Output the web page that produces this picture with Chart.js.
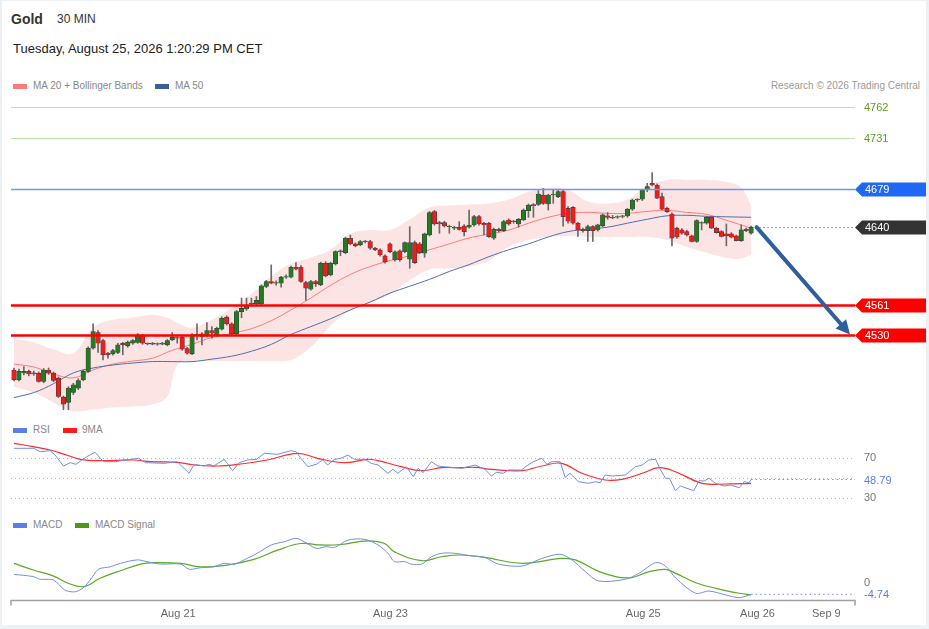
<!DOCTYPE html>
<html>
<head>
<meta charset="utf-8">
<title>Gold 30 MIN</title>
<script src="https://cdn.jsdelivr.net/npm/chart.js@4.4.1/dist/chart.umd.min.js"></script>
<style>
  body{margin:0;background:#edf1f4;width:929px;height:629px;overflow:hidden;position:relative;font-family:Arial,"Liberation Sans",sans-serif}
  .frame{position:absolute;left:2px;top:1px;width:924px;height:624px;background:#fff}
  .t{position:absolute;white-space:nowrap}
  .sw{position:absolute;width:14px;height:5px}
  .lg{font-size:10px;line-height:12px;color:#888}
  canvas{position:absolute;left:0}
</style>
</head>
<body>
<div class="frame"></div>

<div class="t" style="left:11px;top:11px;font-size:14px;line-height:16px;font-weight:bold;color:#333">Gold</div>
<div class="t" style="left:57px;top:12px;font-size:12px;line-height:14px;color:#333">30 MIN</div>
<div class="t" style="left:13px;top:41px;font-size:13px;line-height:16px;color:#222">Tuesday, August 25, 2026 1:20:29 PM CET</div>

<div class="sw" style="left:13px;top:84px;background:#ff7b7b"></div>
<div class="t lg" style="left:33px;top:80px">MA 20 + Bollinger Bands</div>
<div class="sw" style="left:155px;top:84px;background:#3a5f9a"></div>
<div class="t lg" style="left:175px;top:80px">MA 50</div>
<div class="t lg" style="right:9px;top:80px;color:#999">Research © 2026 Trading Central</div>

<div class="sw" style="left:13px;top:428px;background:#5b7fe6"></div>
<div class="t lg" style="left:33px;top:424px">RSI</div>
<div class="sw" style="left:63px;top:428px;background:#ff1a1a"></div>
<div class="t lg" style="left:82px;top:424px">9MA</div>

<div class="sw" style="left:13px;top:523px;background:#5b7fe6"></div>
<div class="t lg" style="left:33px;top:519px">MACD</div>
<div class="sw" style="left:75px;top:523px;background:#4a9a14"></div>
<div class="t lg" style="left:95px;top:519px">MACD Signal</div>

<canvas id="price" width="929" height="320" style="top:100px"></canvas>
<canvas id="rsi" width="929" height="75" style="top:440px"></canvas>
<canvas id="macd" width="929" height="109" style="top:520px"></canvas>

<script>
// candles, index 0 = first 30 min bar
const opens = [4495,4485,4492,4493.5,4491,4491.8,4483.3,4495,4491.8,4486.7,
4467.4,4462,4472.2,4476.6,4485,4493.5,4517.1,4533,4524.9,4512,
4511.4,4512.7,4522.2,4519.5,4522.2,4522.9,4529.6,4521.5,4522,4521.3,
4522.2,4520.5,4525.6,4527.3,4528.3,4516.8,4511.4,4530.6,4531.7,4529.6,
4535,4530.6,4536.4,4548.6,4541.8,4531.7,4554.3,4557,4562,4562.2,
4562.2,4579.7,4584.8,4583.1,4583.1,4589.2,4589.2,4599.3,4599.2,4583.8,
4577,4584.8,4581.4,4603.4,4591.5,4602.7,4615.2,4614.2,4628.7,4623,
4622,4625.3,4625.3,4618.6,4616.9,4610.8,4623,4606.7,4616,4615,
4607.4,4624.3,4623,4613.5,4632,4655.7,4644.6,4644.6,4640.5,4639.9,
4639.9,4641.2,4639.9,4642.2,4650.7,4643.9,4643.9,4628.7,4637.8,4636.5,
4647.3,4645.6,4643.2,4647.3,4656.7,4663,4663.2,4672.6,4663.5,4672.6,
4671,4676.1,4659,4660,4644,4637.9,4636.5,4640.6,4637.2,4641.3,
4651.4,4650,4650.2,4650.8,4651.4,4658.2,4667.6,4668.3,4678.5,4684.5,
4682.8,4671,4659.2,4653.4,4639,4637.2,4635.5,4631.1,4625.4,4644,
4644,4650,4638.9,4635.5,4633.2,4633.2,4631.1,4626.4,4637.9,4634];
const highs = [4497,4496,4498.5,4495,4494,4493,4496.5,4497,4493,4488,
4468.5,4478,4481.5,4486,4495,4518.5,4541.8,4535,4526,4513,
4516,4522,4523,4524.5,4526,4532,4531,4522.5,4523,4522.5,
4523,4526,4533,4529,4529.5,4518,4532,4541.8,4533,4543.2,
4539,4538.5,4549,4550,4543,4555.5,4568,4568,4568,4569.6,
4581.5,4586,4601.7,4585.5,4590,4591.6,4600.5,4604,4601,4585,
4586,4586,4604.5,4605,4604.5,4616,4617,4630,4632,4624,
4626.5,4626.5,4626.5,4619.5,4618,4612,4624,4616,4617,4625,
4640.5,4626,4624.5,4634,4656,4657,4646,4646,4642,4641,
4645.6,4642.5,4657.4,4652,4652,4645,4645,4639,4639,4647,
4648.5,4647,4649,4658.5,4663.5,4664,4677,4679.4,4673.5,4677.7,
4677.7,4677.5,4661,4661,4645,4639,4642,4641.5,4643,4653.5,
4654.8,4652,4651.5,4652,4659,4668.5,4669,4678.5,4684.5,4695.4,
4684,4674.5,4660.5,4654.5,4640,4638.5,4637,4632,4647.5,4645.5,
4651,4651,4640,4636.5,4643.3,4634.5,4632,4642.3,4639,4641];
const lows = [4484,4484,4490,4489,4489.5,4482.5,4482,4490.5,4483,4467,
4454.6,4454.6,4470,4475,4484,4492.5,4516,4512.7,4505.3,4507,
4510,4511.5,4510.4,4518,4521,4522,4521,4520.5,4520.5,4520,
4520.5,4519.5,4524.8,4522.2,4515,4511,4510.5,4525.6,4520.5,4528.5,
4527.3,4529.5,4535.5,4540.5,4530.5,4530.5,4548,4555.5,4560,4561,
4561.5,4578.5,4582.5,4581,4579,4588,4588.5,4596.5,4584,4565.5,
4576,4579.7,4580.5,4589.5,4590.5,4601.5,4611,4613,4622,4620,
4621,4624,4617.5,4616,4610.5,4603.5,4614,4605.5,4605.5,4614,
4598.3,4603,4613,4609.4,4631,4642,4633.8,4640,4633.8,4637.5,
4637,4631,4639,4641,4642,4632,4629.5,4627.5,4635,4635.5,
4642,4644,4640,4646.5,4650,4650,4662,4663,4657.4,4664.2,
4670,4641,4644,4643,4630.5,4635,4625.4,4625.4,4636,4640.5,
4648,4648.5,4649,4649.5,4650,4657,4666,4667,4676,4681.8,
4669,4657.5,4655,4621,4628.5,4633,4631,4625,4624.5,4637.2,
4643,4638.5,4634,4630,4621,4629,4626,4625.5,4635.5,4633];
const closes = [4485,4493.5,4493.5,4491,4492,4483.3,4495,4491.8,4484.3,4468.1,
4460.3,4476.6,4480,4484.3,4493.5,4517.1,4534,4522.2,4510.4,4510.4,
4514.8,4520.5,4520.5,4523.2,4524.9,4530.6,4522.2,4522.1,4521.3,4521.9,
4521.2,4524.9,4528.3,4527.9,4516.1,4512,4530.6,4531.3,4529,4535,
4532.3,4537.4,4547.5,4541.8,4531.7,4554.3,4557.5,4561,4563,4565.6,
4580.4,4584.8,4583.1,4583.8,4589.2,4589.9,4599.3,4597.3,4584.8,4578,
4584.8,4582.4,4603.4,4590.5,4603.4,4615.2,4615.9,4628.7,4623,4621,
4625.3,4625.9,4618.6,4616.9,4611.8,4605,4615.2,4615,4607,4624.3,
4624.3,4604,4614.2,4633.1,4654.7,4643.2,4643.2,4641.2,4640.9,4638.9,
4637.8,4635.5,4642.2,4650.7,4643.2,4642.2,4630.4,4637.8,4636.5,4645.6,
4643.2,4646.2,4648,4657.4,4662.5,4661.8,4673.7,4664.2,4672.6,4673.2,
4676,4650.7,4646,4644,4637.2,4636.5,4640.6,4636.5,4642.3,4652.4,
4650,4649.3,4650.8,4651.4,4658.2,4667.6,4668.3,4677.8,4681.2,4682.8,
4669.3,4658.2,4655.8,4628.8,4630,4633.8,4632.1,4625.4,4646.7,4644.6,
4650,4638.9,4634.5,4630.5,4631.1,4629.8,4626.4,4637.2,4636.5,4640];

// moving averages (read at every 4th bar)
const maX = [0,4,8,12,16,20,24,28,32,36,40,44,48,52,56,60,64,68,72,76,80,84,88,92,96,100,104,108,112,116,120,124,128,132,136,140,144,149];
const ma20 = [4501,4498,4491,4487,4495,4501,4504,4507,4515,4521,4528,4532,4537,4545,4556,4568,4581,4592,4600,4606,4611,4617,4623,4629,4633,4637,4644,4650,4654,4655,4654,4654,4656,4657,4655,4653,4647,4639];
const ma50 = [4467,4472,4481,4492,4497,4500,4502,4503.5,4503.5,4503.5,4506,4509,4514,4521,4531,4539,4547,4556,4564,4573,4580,4587,4595,4602,4610,4617,4623,4630,4635.5,4638,4640,4644,4648,4651.5,4652,4651,4650.5,4650];

// bollinger bands
const bandX = [0,4,8,12,16,20,24,28,31,33,36,40,44,48,52,56,60,64,68,72,76,80,84,88,92,96,100,104,108,112,116,120,124,128,132,136,140,144,147,149];
const bandUpper = [4527,4523,4516,4512,4538,4546,4548,4551,4548,4543,4538,4546,4558,4572,4590,4603,4609,4617,4633,4637,4637,4648,4660,4662,4663,4664,4668,4676,4680,4678,4666,4664,4668,4682,4688,4688,4688,4686,4680,4662];
const bandLower = [4478,4472,4462,4453,4455,4457,4458,4460,4468,4500,4504,4504,4504,4504,4504,4505,4518,4540,4555,4563,4572,4586,4597,4598,4600,4606,4620,4627,4630,4631,4630,4630,4630,4630,4627,4620,4614,4609,4608,4612];

// price levels
const resistLevels = [4762, 4731];
const pivotLevel = 4679;
const lastPrice = 4640;
const supportLevels = [4561, 4530];
const arrowFrom = [150.1, 4640];
const arrowTo = [169, 4531];

// RSI
const rsiX = [0,4,5.3,7.3,8.3,10,11.4,12.5,14.7,16.4,18.1,20.5,22,25.2,26.6,30.3,33,35.4,36.4,38.4,39.4,40.4,42.5,44.2,45.5,47.2,49,50.6,53.3,56,57,58,59.4,61.1,62.4,63.4,64.8,66.1,67.5,68.8,70.9,72.2,73.6,75.6,76.6,77.6,79.3,80.7,81.7,82.7,84.4,85.7,87,90.5,93.2,95.2,96.5,97.5,98.9,99.9,102.6,103.6,105,106.7,107.7,108.7,110.4,111.4,112.4,114.1,116.2,117.5,118.5,119.5,120.9,123.6,125.6,127,128.3,129.7,130.7,131.7,132.5,133.7,134.7,137.4,138.5,139.5,140.5,141.8,143.5,144.8,146.6,147.6,148.6,149];
const rsi = [80,80,76.6,77.6,73.3,62.3,65.6,64,71.6,76,66.6,66.6,68,70,65.6,65,66.6,55,64,62.3,64,62.3,69,57.6,65.6,68.3,69,75,74,77.6,76.6,70,61.6,64,68.3,63.3,69,70,73.3,69,69,65,63.3,55,59,55,61.6,51.6,60,55.6,66.6,62.3,61.6,60,63.3,59,52.3,56,55,58.3,58.3,62.3,66.6,70,64,66.6,66.6,51,55,46.6,45,46.6,45.6,53.3,52.3,53.3,61.6,63.3,68.3,69,58.3,50,50,37.6,42.3,37.6,47.6,47.3,50,45,42.3,43.3,40.6,46.6,45.6,48.79];
const rsiMaX = [0,3.9,7.3,10.6,13.4,17.4,24.2,27.6,33,36.4,41.1,45.8,51.2,57.3,61.4,66.8,71.5,73.6,78.3,82.4,86.4,90.5,93.2,96.5,102.6,106.7,110.7,114.8,119.5,122.9,127,130.4,133.7,139.1,143.9,149];
const rsiMa = [85,81.6,78.3,73.3,69,67.6,68.3,66.6,66,63.3,62.3,64.3,68.3,75,70,65.6,69,67.6,61.6,57.6,60.6,60.6,61,59,57.6,62.3,65,55,48.3,49,55,60.6,56.6,45,44.3,45];
const rsiLevels = [70, 50, 30];

// MACD
const macdX = [0,3.9,5.3,8,10.3,12.4,14.1,15.4,17.1,19.5,21.5,24.9,26.9,29.6,33.7,35.4,37.7,40.4,42.5,44.5,47.2,49.2,52,54.6,57,58.7,61.1,63.1,64.8,67.5,70.9,73.6,75.6,76.9,79,80.3,82.4,84.4,86.4,89.1,92.5,95.2,97.9,102.7,106.7,110.4,112.8,115.5,118.2,123.6,126.3,129.7,131.7,133.8,137.8,140.5,143.9,146.6,149];
const macd = [3.4,2.5,1.4,1.1,-3,-3.7,-1.9,1.1,5.5,6.5,7.9,9.3,8.6,7.6,7.6,5.5,6.1,6.5,7.9,7.5,10,12,15.4,16.7,18.1,16.7,14,14.7,14.4,17.4,17.7,15.4,12,8.6,8.6,7.6,7.6,10.6,12,12,10.9,10.3,7.6,6.8,9.9,11.6,9.3,4.5,0.7,1.4,3.8,8.2,6.8,1.8,-4.3,-3.4,-5,-6.1,-4.74];
const signalX = [0,3.9,8,10.7,14.1,17.4,21.5,25.6,28.3,33.7,37.7,43.1,48.5,53.3,58,62,66.1,71.5,74.9,76.9,82.4,86.4,90.5,95.2,102.7,110.8,113.5,118.9,124.3,128.4,131.7,133.8,137.8,141.9,146.6,149];
const signal = [7.9,5.2,2.7,0,-1.6,1.8,4.9,7.6,8.2,7.9,6.5,7.2,9.5,13.3,16,15.4,15.6,17.1,16,12.6,9,10.6,11.3,10.3,7.9,9.9,9.3,4.1,2,4.5,5.4,3.8,0,-2.3,-4.3,-5];

// time axis
const xTickValues = [33.2, 76.1, 127.2, 150.3, 164.2];
const xTickLabels = ["Aug 21", "Aug 23", "Aug 25", "Aug 26", "Sep 9"];

const FONT = "11px Arial, 'Liberation Sans', sans-serif";
const BLUE = "#6f8fe8";
const LABEL_X = 864;

function pts(xs, ys){
  return xs.map((x,i) => ({ x, y: ys[i] }));
}

function baseOptions(yMin, yMax, padTop, padBottom){
  return {
    responsive:false,
    animation:false,
    events:[],
    layout:{ padding:{ left:11, right:74, top:padTop, bottom:padBottom } },
    plugins:{ legend:{ display:false }, tooltip:{ enabled:false } },
    scales:{
      x:{ type:"linear", min:-0.6, max:170, display:false, offset:false },
      y:{ type:"linear", min:yMin, max:yMax, display:false }
    }
  };
}

function hLine(ctx, x1, x2, y, color, width, dash){
  ctx.save();
  ctx.strokeStyle = color;
  ctx.lineWidth = width;
  ctx.setLineDash(dash || []);
  ctx.beginPath();
  ctx.moveTo(x1, y);
  ctx.lineTo(x2, y);
  ctx.stroke();
  ctx.restore();
}

function label(ctx, text, x, y, color, align){
  ctx.save();
  ctx.font = FONT;
  ctx.fillStyle = color;
  ctx.textAlign = align || "left";
  ctx.textBaseline = "middle";
  ctx.fillText(text, x, y);
  ctx.restore();
}

function tag(ctx, left, right, y, text, bg){
  ctx.save();
  ctx.fillStyle = bg;
  ctx.beginPath();
  ctx.moveTo(left, y);
  ctx.lineTo(left + 7, y - 7);
  ctx.lineTo(right, y - 7);
  ctx.lineTo(right, y + 7);
  ctx.lineTo(left + 7, y + 7);
  ctx.closePath();
  ctx.fill();
  ctx.restore();
  label(ctx, text, left + 10, y + 0.5, "#fff");
}

const levelsPlugin = {
  id:"levels",
  afterDatasetsDraw(chart){
    const { ctx, chartArea:a, scales:{ x, y } } = chart;
    const tagRight = chart.width - 3;

    resistLevels.forEach(v => {
      const py = Math.round(y.getPixelForValue(v)) + 0.5;
      hLine(ctx, a.left, a.right, py, "#bfe2a8", 1.2);
      label(ctx, String(v), LABEL_X, py, "#5e9e22");
    });

    const pp = Math.round(y.getPixelForValue(pivotLevel)) + 0.5;
    hLine(ctx, a.left, a.right, pp, "#6f96ee", 1.6);
    tag(ctx, a.right, tagRight, pp, String(pivotLevel), "#1f68f5");

    supportLevels.forEach(v => {
      const py = Math.round(y.getPixelForValue(v)) + 0.5;
      hLine(ctx, a.left, a.right, py, "#ff0000", 2.6);
      tag(ctx, a.right, tagRight, py, String(v), "#ff0000");
    });

    const lp = Math.round(y.getPixelForValue(lastPrice)) + 0.5;
    hLine(ctx, x.getPixelForValue(arrowFrom[0]) + 3, a.right, lp, "#444", 1, [1, 3]);
    tag(ctx, a.right, tagRight, lp, String(lastPrice), "#333333");

    // forecast arrow
    const x0 = x.getPixelForValue(arrowFrom[0]), y0 = y.getPixelForValue(arrowFrom[1]);
    const x1 = x.getPixelForValue(arrowTo[0]), y1 = y.getPixelForValue(arrowTo[1]);
    const ang = Math.atan2(y1 - y0, x1 - x0);
    const head = 14, half = 7;
    const bx = x1 - Math.cos(ang) * head, by = y1 - Math.sin(ang) * head;
    ctx.save();
    ctx.strokeStyle = "#2f5e9d";
    ctx.fillStyle = "#2f5e9d";
    ctx.lineWidth = 4;
    ctx.lineCap = "round";
    ctx.beginPath();
    ctx.moveTo(x0, y0);
    ctx.lineTo(bx, by);
    ctx.stroke();
    ctx.beginPath();
    ctx.moveTo(x1, y1);
    ctx.lineTo(bx + Math.sin(ang) * half, by - Math.cos(ang) * half);
    ctx.lineTo(bx - Math.sin(ang) * half, by + Math.cos(ang) * half);
    ctx.closePath();
    ctx.fill();
    ctx.restore();
  }
};

const priceOptions = baseOptions(4444.2, 4769.1, 0, 0);
new Chart(document.getElementById("price"), {
  type:"bar",
  data:{
    datasets:[
      { type:"line", data:pts(bandX, bandUpper), borderColor:"transparent", pointRadius:0,
        fill:"+1", backgroundColor:"rgba(250,190,190,0.42)", tension:0.4, order:10 },
      { type:"line", data:pts(bandX, bandLower), borderColor:"transparent", pointRadius:0,
        fill:false, tension:0.4, order:9 },
      { type:"line", data:pts(maX, ma20), borderColor:"rgba(255,105,105,0.85)", borderWidth:1,
        pointRadius:0, tension:0.4, order:6 },
      { type:"line", data:pts(maX, ma50), borderColor:"#4d6fa8", borderWidth:1,
        pointRadius:0, tension:0.4, order:5 },
      { data:opens.map((o,i) => ({ x:i, y:[lows[i], highs[i]] })),
        barThickness:1, backgroundColor:"#6a6a6a", grouped:false, order:2 },
      { data:opens.map((o,i) => ({ x:i, y:[o, closes[i]] })),
        barThickness:4.5, grouped:false, order:1,
        backgroundColor:c => closes[c.dataIndex] >= opens[c.dataIndex] ? "#247a24" : "#ee1c1c",
        borderColor:"#3c3c3c", borderWidth:0.6, borderSkipped:false }
    ]
  },
  options:priceOptions,
  plugins:[levelsPlugin]
});

const rsiPlugin = {
  id:"rsiLevels",
  beforeDatasetsDraw(chart){
    const { ctx, chartArea:a, scales:{ y } } = chart;
    rsiLevels.forEach(v => {
      hLine(ctx, a.left, a.right, Math.round(y.getPixelForValue(v)) + 0.5, "#b8b8b8", 1, [1, 3]);
    });
  },
  afterDatasetsDraw(chart){
    const { ctx, chartArea:a, scales:{ x, y } } = chart;
    const last = rsi[rsi.length - 1];
    const py = y.getPixelForValue(last);
    hLine(ctx, x.getPixelForValue(rsiX[rsiX.length - 1]), a.right, py, BLUE, 1, [1.5, 3]);
    label(ctx, "70", LABEL_X, y.getPixelForValue(70), "#777");
    label(ctx, "30", LABEL_X, y.getPixelForValue(30), "#777");
    label(ctx, last.toFixed(2), LABEL_X, py + 1, "#5b7fe6");
  }
};

new Chart(document.getElementById("rsi"), {
  type:"line",
  data:{
    datasets:[
      { data:pts(rsiX, rsi), borderColor:BLUE, borderWidth:1, pointRadius:0, tension:0 },
      { data:pts(rsiMaX, rsiMa), borderColor:"#ff2a2a", borderWidth:1.2, pointRadius:0, tension:0.4 }
    ]
  },
  options:baseOptions(13.3, 88.3, 0, 0),
  plugins:[rsiPlugin]
});

const macdPlugin = {
  id:"macdAxis",
  afterDatasetsDraw(chart){
    const { ctx, chartArea:a, scales:{ x, y } } = chart;
    const last = macd[macd.length - 1];
    const py = y.getPixelForValue(last);
    hLine(ctx, x.getPixelForValue(macdX[macdX.length - 1]), a.right, py, BLUE, 1, [1.5, 3]);
    label(ctx, "0", LABEL_X, y.getPixelForValue(0), "#777");
    label(ctx, last.toFixed(2), LABEL_X, py + 1, "#5b7fe6");

    // time axis
    const ay = a.bottom + 0.5;
    ctx.save();
    ctx.strokeStyle = "#a0a0a0";
    ctx.lineWidth = 1.5;
    ctx.beginPath();
    ctx.moveTo(a.left, ay + 5);
    ctx.lineTo(a.left, ay);
    ctx.lineTo(a.right, ay);
    ctx.lineTo(a.right, ay + 5);
    ctx.stroke();
    ctx.restore();
    xTickValues.forEach((v,i) => {
      label(ctx, xTickLabels[i], x.getPixelForValue(v), a.bottom + 13.5, "#666", "center");
    });
  }
};

new Chart(document.getElementById("macd"), {
  type:"line",
  data:{
    datasets:[
      { data:pts(macdX, macd), borderColor:BLUE, borderWidth:1, pointRadius:0, tension:0.3 },
      { data:pts(signalX, signal), borderColor:"#5aaa24", borderWidth:1.2, pointRadius:0, tension:0.4 }
    ]
  },
  options:baseOptions(-7.06, 21.51, 10, 29),
  plugins:[macdPlugin]
});
</script>
</body>
</html>
